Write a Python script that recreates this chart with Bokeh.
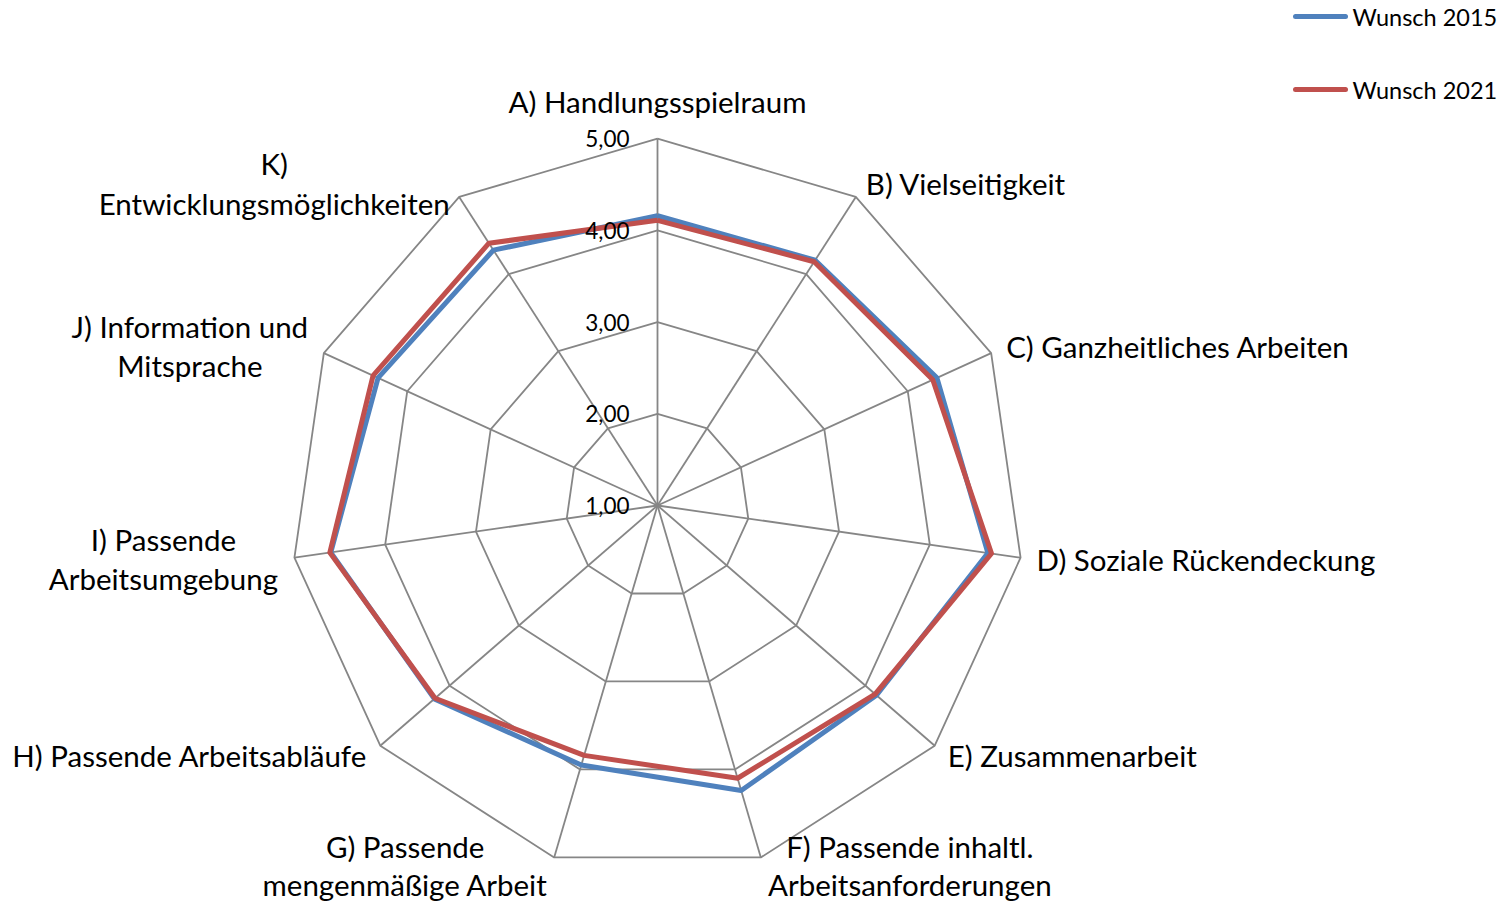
import numpy as np
from bokeh.plotting import figure
from bokeh.models import Range1d
from bokeh.embed import file_html
from bokeh.resources import INLINE
from bokeh.core.properties import value

# ---------------- data ----------------
categories = [
    "A) Handlungsspielraum",
    "B) Vielseitigkeit",
    "C) Ganzheitliches Arbeiten",
    "D) Soziale Rückendeckung",
    "E) Zusammenarbeit",
    "F) Passende inhaltl.\nArbeitsanforderungen",
    "G) Passende\nmengenmäßige Arbeit",
    "H) Passende Arbeitsabläufe",
    "I) Passende\nArbeitsumgebung",
    "J) Information und\nMitsprache",
    "K)\nEntwicklungsmöglichkeiten",
]
wunsch_2015 = [4.16, 4.18, 4.35, 4.64, 4.16, 4.24, 3.95, 4.22, 4.60, 4.35, 4.31]
wunsch_2021 = [4.11, 4.16, 4.30, 4.68, 4.14, 4.10, 3.84, 4.21, 4.61, 4.41, 4.40]
series_names = ["Wunsch 2015", "Wunsch 2021"]
tick_values = [1, 2, 3, 4, 5]
tick_labels = ["1,00", "2,00", "3,00", "4,00", "5,00"]

# ---------------- layout / style ----------------
W, H = 1500, 901
PX = 91.7            # pixels per value unit
CX, CY = 657, 505    # centre of the radar in canvas pixels
R_MIN, R_MAX = 1.0, 5.0
FONT = value("Lato")
BLUE = "#4F81BD"
RED = "#C0504D"
GRID = "#868686"

# label anchor offsets (px) relative to outer vertex: dx, dy, align, line gap
label_layout = [
    (0, -37, "center", 39),
    (10, -13, "left", 39),
    (15, -7, "left", 39),
    (16, 2, "left", 39),
    (13, 10, "left", 39),
    (149, 8, "center", 38),
    (-149, 8, "center", 38),
    (-13, 10, "right", 39),
    (-131, 1, "center", 39),
    (-134, -7, "center", 39),
    (-185, -13, "center", 40),
]

p = figure(
    width=W, height=H, output_backend="svg", toolbar_location=None,
    x_range=Range1d(-CX / PX, (W - CX) / PX),
    y_range=Range1d(-(H - CY) / PX, CY / PX),
    x_axis_type=None, y_axis_type=None, min_border=0,
)
p.outline_line_color = None
p.xgrid.visible = False
p.ygrid.visible = False
p.background_fill_color = "white"
p.border_fill_color = "white"

n = len(categories)
theta = np.arange(n) * 2 * np.pi / n
sx, sy = np.sin(theta), np.cos(theta)
rmax = R_MAX - R_MIN

# spokes
p.segment(x0=np.zeros(n), y0=np.zeros(n), x1=rmax * sx, y1=rmax * sy,
          line_color=GRID, line_width=1.8)
# rings
for tv in tick_values[1:]:
    r = tv - R_MIN
    xs = list(r * sx) + [r * sx[0]]
    ys = list(r * sy) + [r * sy[0]]
    p.line(xs, ys, line_color=GRID, line_width=1.8)

# series
for vals, col in ((wunsch_2015, BLUE), (wunsch_2021, RED)):
    r = np.array(vals) - R_MIN
    xs = list(r * sx) + [r[0] * sx[0]]
    ys = list(r * sy) + [r[0] * sy[0]]
    p.line(xs, ys, line_color=col, line_width=5, line_join="round")

# tick labels
p.text(x=[0] * len(tick_values), y=[t - R_MIN for t in tick_values], text=tick_labels,
       x_offset=-28, text_align="right", text_baseline="middle",
       text_font=FONT, text_font_size="22.5px", text_color="black")

# category labels
for i, lab in enumerate(categories):
    dx, dy, al, gap = label_layout[i]
    lines = lab.split("\n")
    k = len(lines)
    for j, ln in enumerate(lines):
        off = dy + (j - (k - 1) / 2) * gap
        p.text(x=[rmax * sx[i]], y=[rmax * sy[i]], text=[ln],
               x_offset=dx, y_offset=off, text_align=al, text_baseline="middle",
               text_font=FONT, text_font_size="29.5px", text_color="black")

# legend (manual)
def to_dx(cx):
    return (cx - CX) / PX

def to_dy(cy):
    return (CY - cy) / PX

leg_y = [16, 89]
for k, (name, col) in enumerate(zip(series_names, (BLUE, RED))):
    yy = to_dy(leg_y[k])
    p.line([to_dx(1295), to_dx(1345)], [yy, yy], line_color=col, line_width=5, line_cap="round")
    p.text(x=[to_dx(1352)], y=[yy], text=[name], text_align="left", text_baseline="middle",
           text_font=FONT, text_font_size="23.5px", text_color="black")

open("out.html", "w").write(file_html(p, INLINE))
